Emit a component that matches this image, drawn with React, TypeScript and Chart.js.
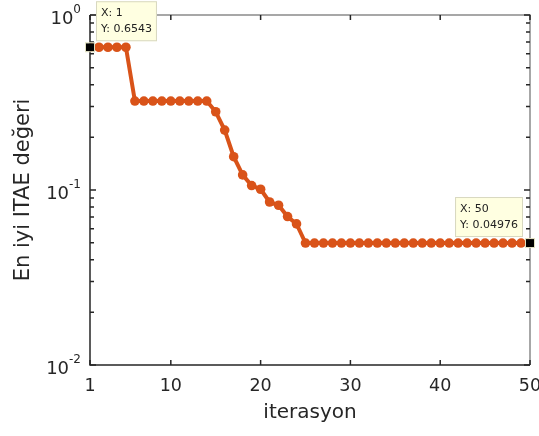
import React, { useEffect, useRef } from "react";
import { Chart, registerables } from "chart.js";

Chart.register(...registerables);

const iterations: number[] = Array.from({ length: 50 }, (_, i) => i + 1);
const bestItae: number[] = [
  0.6543, 0.6543, 0.6543, 0.6543, 0.6543,
  0.3224, 0.3224, 0.3224, 0.3224, 0.3224, 0.3224, 0.3224, 0.3224, 0.3224,
  0.28, 0.22, 0.155, 0.122, 0.106, 0.101, 0.0854, 0.0818, 0.0705, 0.064,
  0.04976, 0.04976, 0.04976, 0.04976, 0.04976, 0.04976, 0.04976, 0.04976, 0.04976, 0.04976,
  0.04976, 0.04976, 0.04976, 0.04976, 0.04976, 0.04976, 0.04976, 0.04976, 0.04976, 0.04976,
  0.04976, 0.04976, 0.04976, 0.04976, 0.04976, 0.04976,
];
const xTicks: number[] = [1, 10, 20, 30, 40, 50];
const yDecades: number[] = [0, -1, -2];
const tipIndices: number[] = [0, 49];
const tipLabels: string[][] = [
  ["X: 1", "Y: 0.6543"],
  ["X: 50", "Y: 0.04976"],
];
const xTitle = "iterasyon";
const yTitle = "En iyi ITAE değeri";

const FONT = "'DejaVu Sans', sans-serif";

const decorPlugin = {
  id: "decor",
  afterDraw(chart: any) {
    const ctx = chart.ctx as CanvasRenderingContext2D;
    const a = chart.chartArea;
    const xs = chart.scales.x;
    const ys = chart.scales.y;
    ctx.save();
    // box
    ctx.lineWidth = 1.5;
    ctx.strokeStyle = "#8a8a8a";
    ctx.beginPath();
    ctx.moveTo(a.left, a.top);
    ctx.lineTo(a.right, a.top);
    ctx.lineTo(a.right, a.bottom);
    ctx.stroke();
    ctx.strokeStyle = "#262626";
    ctx.beginPath();
    ctx.moveTo(a.left, a.top);
    ctx.lineTo(a.left, a.bottom);
    ctx.lineTo(a.right, a.bottom);
    ctx.stroke();
    // x ticks
    ctx.lineWidth = 1.5;
    ctx.strokeStyle = "#262626";
    ctx.fillStyle = "#262626";
    ctx.font = `17.5px ${FONT}`;
    ctx.textAlign = "center";
    ctx.textBaseline = "top";
    for (const t of xTicks) {
      const px = xs.getPixelForValue(t);
      ctx.beginPath();
      ctx.moveTo(px, a.bottom);
      ctx.lineTo(px, a.bottom - 5);
      ctx.moveTo(px, a.top);
      ctx.lineTo(px, a.top + 5);
      ctx.stroke();
      ctx.fillText(String(t), px, a.bottom + 13);
    }
    // y ticks major + minor
    for (let d = -2; d <= 0; d++) {
      const base = Math.pow(10, d);
      const py = ys.getPixelForValue(base);
      ctx.beginPath();
      ctx.moveTo(a.left, py);
      ctx.lineTo(a.left + 6, py);
      ctx.moveTo(a.right, py);
      ctx.lineTo(a.right - 6, py);
      ctx.stroke();
      if (d < 0) {
        for (let m = 2; m <= 9; m++) {
          const my = ys.getPixelForValue(base * m);
          ctx.beginPath();
          ctx.moveTo(a.left, my);
          ctx.lineTo(a.left + 4, my);
          ctx.moveTo(a.right, my);
          ctx.lineTo(a.right - 4, my);
          ctx.stroke();
        }
      }
    }
    // y tick labels with superscripts
    for (const d of yDecades) {
      const py = ys.getPixelForValue(Math.pow(10, d));
      const exp = String(d);
      ctx.font = `12px ${FONT}`;
      const ew = ctx.measureText(exp).width;
      ctx.font = `18px ${FONT}`;
      const bw = ctx.measureText("10").width;
      const right = a.left - 9;
      ctx.textAlign = "left";
      ctx.textBaseline = "alphabetic";
      ctx.fillText("10", right - ew - bw, py + 9);
      ctx.font = `12px ${FONT}`;
      ctx.fillText(exp, right - ew, py - 2);
    }
    // titles
    ctx.font = `20px ${FONT}`;
    ctx.textAlign = "center";
    ctx.textBaseline = "middle";
    ctx.fillText(xTitle, (a.left + a.right) / 2, a.bottom + 48);
    ctx.save();
    ctx.translate(24, (a.top + a.bottom) / 2);
    ctx.rotate(-Math.PI / 2);
    ctx.font = `21px ${FONT}`;
    ctx.fillText(yTitle, 0, 0);
    ctx.restore();
    // datatips
    tipIndices.forEach((idx, k) => {
      const px = xs.getPixelForValue(iterations[idx]);
      const py = ys.getPixelForValue(bestItae[idx]);
      ctx.font = `11px ${FONT}`;
      const lines = tipLabels[k];
      const w = Math.max(...lines.map((l) => ctx.measureText(l).width)) + 10;
      const h = 40;
      const bx = k === 0 ? px + 6 : px - 7 - w;
      const by = py - 6 - h;
      ctx.fillStyle = "#ffffe1";
      ctx.fillRect(bx, by, w, h);
      ctx.strokeStyle = "#d8d8c0";
      ctx.lineWidth = 1;
      ctx.strokeRect(bx + 0.5, by + 0.5, w - 1, h - 1);
      ctx.fillStyle = "#222";
      ctx.textAlign = "left";
      ctx.textBaseline = "middle";
      ctx.fillText(lines[0], bx + 5, by + 12);
      ctx.fillText(lines[1], bx + 5, by + 28);
      // marker
      ctx.fillStyle = "#000";
      ctx.fillRect(px - 4, py - 4, 8, 8);
      ctx.strokeStyle = "#e0e0c0";
      ctx.strokeRect(px - 4.5, py - 4.5, 9, 9);
    });
    ctx.restore();
  },
};

export default function App() {
  const ref = useRef<HTMLCanvasElement>(null);
  useEffect(() => {
    if (!ref.current) return;
    const chart = new Chart(ref.current, {
      type: "line",
      data: {
        datasets: [
          {
            data: iterations.map((x, i) => ({ x, y: bestItae[i] })),
            borderColor: "#d95319",
            backgroundColor: "#d95319",
            borderWidth: 4,
            pointRadius: 4.8,
            pointBorderWidth: 0,
            pointBackgroundColor: "#d95319",
            tension: 0,
          },
        ],
      },
      options: {
        animation: false,
        responsive: false,
        events: [],
        layout: { padding: { top: 15, right: 9, left: 0, bottom: 0 } },
        plugins: { legend: { display: false }, tooltip: { enabled: false } },
        scales: {
          x: {
            type: "linear",
            min: 1,
            max: 50,
            grid: { display: false },
            border: { display: false },
            ticks: { display: false },
            afterFit: (s: any) => {
              s.height = 71;
            },
          },
          y: {
            type: "logarithmic",
            min: 0.01,
            max: 1,
            grid: { display: false },
            border: { display: false },
            ticks: { display: false },
            afterFit: (s: any) => {
              s.width = 90;
            },
          },
        },
      },
      plugins: [decorPlugin],
    });
    return () => chart.destroy();
  }, []);
  return (
    <div style={{ position: "fixed", left: 0, top: 0, width: 539, height: 436, background: "#fff" }}>
      <canvas ref={ref} width={539} height={436} style={{ width: 539, height: 436 }} />
    </div>
  );
}
